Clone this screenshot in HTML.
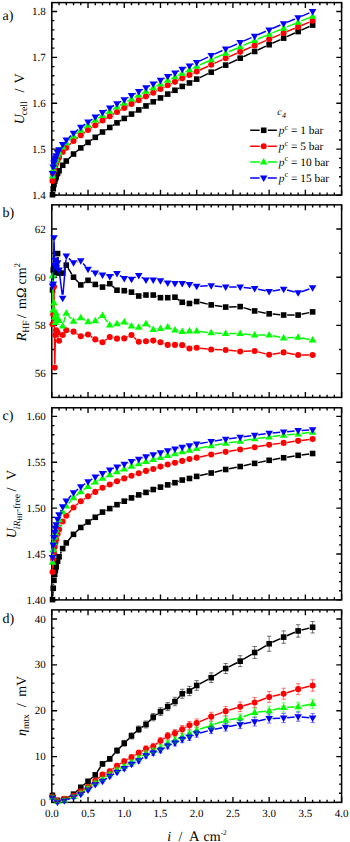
<!DOCTYPE html>
<html><head><meta charset="utf-8"><title>Figure</title>
<style>html,body{margin:0;padding:0;background:#fff;}body{width:350px;height:842px;position:relative;overflow:hidden;font-family:"Liberation Serif",serif;}</style></head>
<body>
<svg width="350" height="842" viewBox="0 0 350 842" style="position:absolute;left:0;top:0;font-family:'Liberation Serif',serif;text-rendering:geometricPrecision;">
<rect x="0" y="0" width="350" height="842" fill="#fff"/>
<rect x="51.8" y="2.60" width="289.80" height="192.50" fill="none" stroke="#000" stroke-width="1.5"/>
<path d="M51.80 195.10v-5.3M51.80 2.60v5.3M59.05 195.10v-2.6M59.05 2.60v2.6M66.29 195.10v-2.6M66.29 2.60v2.6M73.53 195.10v-2.6M73.53 2.60v2.6M80.78 195.10v-2.6M80.78 2.60v2.6M88.03 195.10v-5.3M88.03 2.60v5.3M95.27 195.10v-2.6M95.27 2.60v2.6M102.51 195.10v-2.6M102.51 2.60v2.6M109.76 195.10v-2.6M109.76 2.60v2.6M117.00 195.10v-2.6M117.00 2.60v2.6M124.25 195.10v-5.3M124.25 2.60v5.3M131.50 195.10v-2.6M131.50 2.60v2.6M138.74 195.10v-2.6M138.74 2.60v2.6M145.99 195.10v-2.6M145.99 2.60v2.6M153.23 195.10v-2.6M153.23 2.60v2.6M160.48 195.10v-5.3M160.48 2.60v5.3M167.72 195.10v-2.6M167.72 2.60v2.6M174.97 195.10v-2.6M174.97 2.60v2.6M182.21 195.10v-2.6M182.21 2.60v2.6M189.45 195.10v-2.6M189.45 2.60v2.6M196.70 195.10v-5.3M196.70 2.60v5.3M203.94 195.10v-2.6M203.94 2.60v2.6M211.19 195.10v-2.6M211.19 2.60v2.6M218.44 195.10v-2.6M218.44 2.60v2.6M225.68 195.10v-2.6M225.68 2.60v2.6M232.93 195.10v-5.3M232.93 2.60v5.3M240.17 195.10v-2.6M240.17 2.60v2.6M247.42 195.10v-2.6M247.42 2.60v2.6M254.66 195.10v-2.6M254.66 2.60v2.6M261.90 195.10v-2.6M261.90 2.60v2.6M269.15 195.10v-5.3M269.15 2.60v5.3M276.40 195.10v-2.6M276.40 2.60v2.6M283.64 195.10v-2.6M283.64 2.60v2.6M290.88 195.10v-2.6M290.88 2.60v2.6M298.13 195.10v-2.6M298.13 2.60v2.6M305.38 195.10v-5.3M305.38 2.60v5.3M312.62 195.10v-2.6M312.62 2.60v2.6M319.87 195.10v-2.6M319.87 2.60v2.6M327.11 195.10v-2.6M327.11 2.60v2.6M334.36 195.10v-2.6M334.36 2.60v2.6M341.60 195.10v-5.3M341.60 2.60v5.3M51.8 195.10h5.3M341.6 195.10h-5.3M51.8 185.92h2.6M341.6 185.92h-2.6M51.8 176.74h2.6M341.6 176.74h-2.6M51.8 167.55h2.6M341.6 167.55h-2.6M51.8 158.37h2.6M341.6 158.37h-2.6M51.8 149.19h5.3M341.6 149.19h-5.3M51.8 140.01h2.6M341.6 140.01h-2.6M51.8 130.83h2.6M341.6 130.83h-2.6M51.8 121.64h2.6M341.6 121.64h-2.6M51.8 112.46h2.6M341.6 112.46h-2.6M51.8 103.28h5.3M341.6 103.28h-5.3M51.8 94.10h2.6M341.6 94.10h-2.6M51.8 84.92h2.6M341.6 84.92h-2.6M51.8 75.73h2.6M341.6 75.73h-2.6M51.8 66.55h2.6M341.6 66.55h-2.6M51.8 57.37h5.3M341.6 57.37h-5.3M51.8 48.19h2.6M341.6 48.19h-2.6M51.8 39.01h2.6M341.6 39.01h-2.6M51.8 29.82h2.6M341.6 29.82h-2.6M51.8 20.64h2.6M341.6 20.64h-2.6M51.8 11.46h5.3M341.6 11.46h-5.3" stroke="#000" stroke-width="1.35" fill="none"/>
<path d="M68.81 158.59L71.02 156.46M76.21 151.77L78.11 150.16M83.57 145.78L85.24 144.51M90.89 140.38L92.41 139.31M98.10 135.24L99.69 134.08M105.48 130.16L106.80 129.32M112.72 125.58L114.05 124.74M119.99 121.04L121.27 120.25M127.25 116.61L128.49 115.87M134.53 112.33L135.70 111.67M141.81 108.25L142.92 107.63M149.02 104.20L150.20 103.53M156.32 100.14L157.39 99.57M163.57 96.29L164.63 95.73M170.82 92.46L171.87 91.91M178.05 88.63L179.12 88.05M185.37 84.90L186.30 84.46M192.55 81.32L193.60 80.76M199.85 77.62L208.04 73.68M214.34 70.63L222.53 66.64M228.84 63.60L237.01 59.70M243.34 56.72L251.49 52.93M257.83 49.97L265.98 46.18M272.34 43.25L280.45 39.57M286.83 36.68L294.94 33.00M301.32 30.13L309.43 26.50" stroke="#000" stroke-width="1.5" fill="none"/><rect x="49.72" y="191.89" width="5.60" height="5.60" fill="#000"/><rect x="50.45" y="185.91" width="5.60" height="5.60" fill="#000"/><rect x="51.17" y="181.67" width="5.60" height="5.60" fill="#000"/><rect x="51.90" y="178.41" width="5.60" height="5.60" fill="#000"/><rect x="52.62" y="176.05" width="5.60" height="5.60" fill="#000"/><rect x="53.35" y="174.08" width="5.60" height="5.60" fill="#000"/><rect x="54.80" y="170.71" width="5.60" height="5.60" fill="#000"/><rect x="56.25" y="167.96" width="5.60" height="5.60" fill="#000"/><rect x="59.87" y="162.48" width="5.60" height="5.60" fill="#000"/><rect x="63.49" y="158.23" width="5.60" height="5.60" fill="#000"/><rect x="70.73" y="151.23" width="5.60" height="5.60" fill="#000"/><rect x="77.98" y="145.10" width="5.60" height="5.60" fill="#000"/><rect x="85.23" y="139.59" width="5.60" height="5.60" fill="#000"/><rect x="92.47" y="134.50" width="5.60" height="5.60" fill="#000"/><rect x="99.71" y="129.22" width="5.60" height="5.60" fill="#000"/><rect x="106.96" y="124.66" width="5.60" height="5.60" fill="#000"/><rect x="114.20" y="120.07" width="5.60" height="5.60" fill="#000"/><rect x="121.45" y="115.61" width="5.60" height="5.60" fill="#000"/><rect x="128.69" y="111.27" width="5.60" height="5.60" fill="#000"/><rect x="135.94" y="107.13" width="5.60" height="5.60" fill="#000"/><rect x="143.19" y="103.14" width="5.60" height="5.60" fill="#000"/><rect x="150.43" y="98.98" width="5.60" height="5.60" fill="#000"/><rect x="157.68" y="95.13" width="5.60" height="5.60" fill="#000"/><rect x="164.92" y="91.29" width="5.60" height="5.60" fill="#000"/><rect x="172.16" y="87.47" width="5.60" height="5.60" fill="#000"/><rect x="179.41" y="83.61" width="5.60" height="5.60" fill="#000"/><rect x="186.65" y="80.15" width="5.60" height="5.60" fill="#000"/><rect x="193.90" y="76.33" width="5.60" height="5.60" fill="#000"/><rect x="208.39" y="69.37" width="5.60" height="5.60" fill="#000"/><rect x="222.88" y="62.31" width="5.60" height="5.60" fill="#000"/><rect x="237.37" y="55.39" width="5.60" height="5.60" fill="#000"/><rect x="251.86" y="48.65" width="5.60" height="5.60" fill="#000"/><rect x="266.35" y="41.90" width="5.60" height="5.60" fill="#000"/><rect x="280.84" y="35.32" width="5.60" height="5.60" fill="#000"/><rect x="295.33" y="28.76" width="5.60" height="5.60" fill="#000"/><rect x="309.82" y="22.27" width="5.60" height="5.60" fill="#000"/>
<path d="M68.84 145.32L70.99 143.29M76.28 138.71L78.04 137.32M83.64 133.13L85.16 132.07M90.94 128.12L92.35 127.18M98.21 123.34L99.58 122.45M105.53 118.77L106.75 118.04M112.77 114.48L113.99 113.76M120.06 110.27L121.20 109.63M127.31 106.21L128.43 105.59M134.60 102.28L135.63 101.75M141.84 98.52L142.89 97.96M149.12 94.78L150.09 94.30M156.33 91.12L157.38 90.57M163.60 87.37L164.59 86.87M170.88 83.79L171.81 83.34M178.11 80.29L179.07 79.82M185.38 76.79L186.29 76.37M192.63 73.41L193.52 72.99M199.88 70.05L208.01 66.28M214.38 63.36L222.49 59.67M228.89 56.82L236.96 53.28M243.37 50.46L251.46 46.90M257.88 44.11L265.93 40.66M272.36 37.88L280.43 34.38M286.87 31.63L294.90 28.26M301.35 25.54L309.40 22.15" stroke="#f00" stroke-width="1.5" fill="none"/><circle cx="52.52" cy="180.88" r="3.05" fill="#f00"/><circle cx="53.25" cy="174.35" r="3.05" fill="#f00"/><circle cx="53.97" cy="170.42" r="3.05" fill="#f00"/><circle cx="54.70" cy="167.59" r="3.05" fill="#f00"/><circle cx="55.42" cy="165.24" r="3.05" fill="#f00"/><circle cx="56.15" cy="163.30" r="3.05" fill="#f00"/><circle cx="57.60" cy="160.01" r="3.05" fill="#f00"/><circle cx="59.05" cy="157.30" r="3.05" fill="#f00"/><circle cx="62.67" cy="151.91" r="3.05" fill="#f00"/><circle cx="66.29" cy="147.72" r="3.05" fill="#f00"/><circle cx="73.53" cy="140.88" r="3.05" fill="#f00"/><circle cx="80.78" cy="135.14" r="3.05" fill="#f00"/><circle cx="88.03" cy="130.06" r="3.05" fill="#f00"/><circle cx="95.27" cy="125.24" r="3.05" fill="#f00"/><circle cx="102.51" cy="120.55" r="3.05" fill="#f00"/><circle cx="109.76" cy="116.26" r="3.05" fill="#f00"/><circle cx="117.00" cy="111.98" r="3.05" fill="#f00"/><circle cx="124.25" cy="107.91" r="3.05" fill="#f00"/><circle cx="131.50" cy="103.89" r="3.05" fill="#f00"/><circle cx="138.74" cy="100.14" r="3.05" fill="#f00"/><circle cx="145.99" cy="96.33" r="3.05" fill="#f00"/><circle cx="153.23" cy="92.75" r="3.05" fill="#f00"/><circle cx="160.48" cy="88.94" r="3.05" fill="#f00"/><circle cx="167.72" cy="85.30" r="3.05" fill="#f00"/><circle cx="174.97" cy="81.83" r="3.05" fill="#f00"/><circle cx="182.21" cy="78.28" r="3.05" fill="#f00"/><circle cx="189.45" cy="74.88" r="3.05" fill="#f00"/><circle cx="196.70" cy="71.52" r="3.05" fill="#f00"/><circle cx="211.19" cy="64.81" r="3.05" fill="#f00"/><circle cx="225.68" cy="58.23" r="3.05" fill="#f00"/><circle cx="240.17" cy="51.87" r="3.05" fill="#f00"/><circle cx="254.66" cy="45.49" r="3.05" fill="#f00"/><circle cx="269.15" cy="39.28" r="3.05" fill="#f00"/><circle cx="283.64" cy="32.99" r="3.05" fill="#f00"/><circle cx="298.13" cy="26.91" r="3.05" fill="#f00"/><circle cx="312.62" cy="20.79" r="3.05" fill="#f00"/>
<path d="M68.86 140.37L70.97 138.41M76.27 133.84L78.05 132.42M83.61 128.18L85.19 127.03M90.92 123.01L92.37 122.02M98.23 118.19L99.56 117.35M105.52 113.70L106.75 112.96M112.79 109.41L113.98 108.72M120.06 105.25L121.20 104.61M127.33 101.24L128.41 100.65M134.58 97.34L135.65 96.77M141.81 93.44L142.92 92.83M149.14 89.63L150.08 89.18M156.35 86.08L157.35 85.58M163.59 82.40L164.61 81.88M170.88 78.77L171.81 78.32M178.11 75.29L179.06 74.83M185.37 71.79L186.30 71.35M192.61 68.33L193.55 67.88M199.88 64.91L208.01 61.20M214.38 58.30L222.49 54.60M228.89 51.76L236.96 48.26M243.37 45.44L251.46 41.83M257.88 39.04L265.93 35.64M272.38 32.92L280.41 29.57M286.88 26.89L294.89 23.59M301.37 20.93L309.38 17.66" stroke="#0f0" stroke-width="1.5" fill="none"/><path d="M48.72 178.55L56.32 178.55L52.52 172.05Z" fill="#0f0"/><path d="M49.45 171.98L57.05 171.98L53.25 165.48Z" fill="#0f0"/><path d="M50.17 168.04L57.77 168.04L53.97 161.54Z" fill="#0f0"/><path d="M50.90 165.19L58.50 165.19L54.70 158.69Z" fill="#0f0"/><path d="M51.62 162.86L59.22 162.86L55.42 156.36Z" fill="#0f0"/><path d="M52.35 160.89L59.95 160.89L56.15 154.39Z" fill="#0f0"/><path d="M53.80 157.59L61.40 157.59L57.60 151.09Z" fill="#0f0"/><path d="M55.25 154.85L62.84 154.85L59.05 148.35Z" fill="#0f0"/><path d="M58.87 149.45L66.47 149.45L62.67 142.95Z" fill="#0f0"/><path d="M62.49 145.25L70.09 145.25L66.29 138.75Z" fill="#0f0"/><path d="M69.73 138.53L77.33 138.53L73.53 132.03Z" fill="#0f0"/><path d="M76.98 132.74L84.58 132.74L80.78 126.24Z" fill="#0f0"/><path d="M84.23 127.47L91.83 127.47L88.03 120.97Z" fill="#0f0"/><path d="M91.47 122.56L99.07 122.56L95.27 116.06Z" fill="#0f0"/><path d="M98.71 117.99L106.31 117.99L102.51 111.49Z" fill="#0f0"/><path d="M105.96 113.68L113.56 113.68L109.76 107.18Z" fill="#0f0"/><path d="M113.20 109.46L120.80 109.46L117.00 102.96Z" fill="#0f0"/><path d="M120.45 105.39L128.05 105.39L124.25 98.89Z" fill="#0f0"/><path d="M127.70 101.49L135.30 101.49L131.50 94.99Z" fill="#0f0"/><path d="M134.94 97.62L142.54 97.62L138.74 91.12Z" fill="#0f0"/><path d="M142.19 93.65L149.79 93.65L145.99 87.15Z" fill="#0f0"/><path d="M149.43 90.16L157.03 90.16L153.23 83.66Z" fill="#0f0"/><path d="M156.68 86.50L164.28 86.50L160.48 80.00Z" fill="#0f0"/><path d="M163.92 82.78L171.52 82.78L167.72 76.28Z" fill="#0f0"/><path d="M171.16 79.31L178.77 79.31L174.97 72.81Z" fill="#0f0"/><path d="M178.41 75.80L186.01 75.80L182.21 69.30Z" fill="#0f0"/><path d="M185.65 72.34L193.25 72.34L189.45 65.84Z" fill="#0f0"/><path d="M192.90 68.86L200.50 68.86L196.70 62.36Z" fill="#0f0"/><path d="M207.39 62.25L214.99 62.25L211.19 55.75Z" fill="#0f0"/><path d="M221.88 55.65L229.48 55.65L225.68 49.15Z" fill="#0f0"/><path d="M236.37 49.37L243.97 49.37L240.17 42.87Z" fill="#0f0"/><path d="M250.86 42.90L258.46 42.90L254.66 36.40Z" fill="#0f0"/><path d="M265.35 36.77L272.95 36.77L269.15 30.27Z" fill="#0f0"/><path d="M279.84 30.73L287.44 30.73L283.64 24.23Z" fill="#0f0"/><path d="M294.33 24.76L301.93 24.76L298.13 18.26Z" fill="#0f0"/><path d="M308.82 18.83L316.42 18.83L312.62 12.33Z" fill="#0f0"/>
<path d="M68.83 137.67L71.00 135.61M76.26 131.00L78.06 129.54M83.62 125.29L85.19 124.15M90.90 120.11L92.39 119.08M98.24 115.24L99.55 114.42M105.49 110.72L106.79 109.90M112.76 106.26L114.00 105.51M120.06 102.01L121.19 101.38M127.30 97.97L128.44 97.33M134.55 93.92L135.68 93.29M141.82 89.93L142.91 89.34M149.10 86.08L150.12 85.55M156.35 82.37L157.35 81.87M163.59 78.70L164.60 78.18M170.85 75.02L171.83 74.54M178.09 71.41L179.08 70.92M185.37 67.84L186.30 67.40M192.61 64.37L193.55 63.92M199.87 60.91L208.02 57.08M214.38 54.16L222.49 50.52M228.87 47.65L236.98 44.01M243.37 41.16L251.46 37.61M257.87 34.81L265.94 31.31M272.36 28.54L280.43 25.06M286.88 22.35L294.89 19.06M301.35 16.35L309.40 12.91" stroke="#00f" stroke-width="1.5" fill="none"/><path d="M48.72 171.07L56.32 171.07L52.52 177.57Z" fill="#00f"/><path d="M49.45 164.52L57.05 164.52L53.25 171.02Z" fill="#00f"/><path d="M50.17 160.55L57.77 160.55L53.97 167.05Z" fill="#00f"/><path d="M50.90 157.69L58.50 157.69L54.70 164.19Z" fill="#00f"/><path d="M51.62 155.38L59.22 155.38L55.42 161.88Z" fill="#00f"/><path d="M52.35 153.37L59.95 153.37L56.15 159.87Z" fill="#00f"/><path d="M53.80 150.03L61.40 150.03L57.60 156.53Z" fill="#00f"/><path d="M55.25 147.27L62.84 147.27L59.05 153.77Z" fill="#00f"/><path d="M58.87 141.93L66.47 141.93L62.67 148.43Z" fill="#00f"/><path d="M62.49 137.58L70.09 137.58L66.29 144.08Z" fill="#00f"/><path d="M69.73 130.70L77.33 130.70L73.53 137.20Z" fill="#00f"/><path d="M76.98 124.84L84.58 124.84L80.78 131.34Z" fill="#00f"/><path d="M84.23 119.60L91.83 119.60L88.03 126.10Z" fill="#00f"/><path d="M91.47 114.59L99.07 114.59L95.27 121.09Z" fill="#00f"/><path d="M98.71 110.07L106.31 110.07L102.51 116.57Z" fill="#00f"/><path d="M105.96 105.55L113.56 105.55L109.76 112.05Z" fill="#00f"/><path d="M113.20 101.22L120.80 101.22L117.00 107.72Z" fill="#00f"/><path d="M120.45 97.18L128.05 97.18L124.25 103.68Z" fill="#00f"/><path d="M127.70 93.12L135.30 93.12L131.50 99.62Z" fill="#00f"/><path d="M134.94 89.09L142.54 89.09L138.74 95.59Z" fill="#00f"/><path d="M142.19 85.18L149.79 85.18L145.99 91.68Z" fill="#00f"/><path d="M149.43 81.45L157.03 81.45L153.23 87.95Z" fill="#00f"/><path d="M156.68 77.79L164.28 77.79L160.48 84.29Z" fill="#00f"/><path d="M163.92 74.08L171.52 74.08L167.72 80.58Z" fill="#00f"/><path d="M171.16 70.48L178.77 70.48L174.97 76.98Z" fill="#00f"/><path d="M178.41 66.85L186.01 66.85L182.21 73.35Z" fill="#00f"/><path d="M185.65 63.40L193.25 63.40L189.45 69.90Z" fill="#00f"/><path d="M192.90 59.90L200.50 59.90L196.70 66.40Z" fill="#00f"/><path d="M207.39 53.10L214.99 53.10L211.19 59.60Z" fill="#00f"/><path d="M221.88 46.58L229.48 46.58L225.68 53.08Z" fill="#00f"/><path d="M236.37 40.07L243.97 40.07L240.17 46.57Z" fill="#00f"/><path d="M250.86 33.70L258.46 33.70L254.66 40.20Z" fill="#00f"/><path d="M265.35 27.42L272.95 27.42L269.15 33.92Z" fill="#00f"/><path d="M279.84 21.17L287.44 21.17L283.64 27.67Z" fill="#00f"/><path d="M294.33 15.23L301.93 15.23L298.13 21.73Z" fill="#00f"/><path d="M308.82 9.03L316.42 9.03L312.62 15.53Z" fill="#00f"/>
<text x="45.8" y="198.70" font-size="11" text-anchor="end">1.4</text>
<text x="45.8" y="152.79" font-size="11" text-anchor="end">1.5</text>
<text x="45.8" y="106.88" font-size="11" text-anchor="end">1.6</text>
<text x="45.8" y="60.97" font-size="11" text-anchor="end">1.7</text>
<text x="45.8" y="15.06" font-size="11" text-anchor="end">1.8</text>
<rect x="51.8" y="204.85" width="289.80" height="192.55" fill="none" stroke="#000" stroke-width="1.5"/>
<path d="M51.80 397.40v-5.3M51.80 204.85v5.3M59.05 397.40v-2.6M59.05 204.85v2.6M66.29 397.40v-2.6M66.29 204.85v2.6M73.53 397.40v-2.6M73.53 204.85v2.6M80.78 397.40v-2.6M80.78 204.85v2.6M88.03 397.40v-5.3M88.03 204.85v5.3M95.27 397.40v-2.6M95.27 204.85v2.6M102.51 397.40v-2.6M102.51 204.85v2.6M109.76 397.40v-2.6M109.76 204.85v2.6M117.00 397.40v-2.6M117.00 204.85v2.6M124.25 397.40v-5.3M124.25 204.85v5.3M131.50 397.40v-2.6M131.50 204.85v2.6M138.74 397.40v-2.6M138.74 204.85v2.6M145.99 397.40v-2.6M145.99 204.85v2.6M153.23 397.40v-2.6M153.23 204.85v2.6M160.48 397.40v-5.3M160.48 204.85v5.3M167.72 397.40v-2.6M167.72 204.85v2.6M174.97 397.40v-2.6M174.97 204.85v2.6M182.21 397.40v-2.6M182.21 204.85v2.6M189.45 397.40v-2.6M189.45 204.85v2.6M196.70 397.40v-5.3M196.70 204.85v5.3M203.94 397.40v-2.6M203.94 204.85v2.6M211.19 397.40v-2.6M211.19 204.85v2.6M218.44 397.40v-2.6M218.44 204.85v2.6M225.68 397.40v-2.6M225.68 204.85v2.6M232.93 397.40v-5.3M232.93 204.85v5.3M240.17 397.40v-2.6M240.17 204.85v2.6M247.42 397.40v-2.6M247.42 204.85v2.6M254.66 397.40v-2.6M254.66 204.85v2.6M261.90 397.40v-2.6M261.90 204.85v2.6M269.15 397.40v-5.3M269.15 204.85v5.3M276.40 397.40v-2.6M276.40 204.85v2.6M283.64 397.40v-2.6M283.64 204.85v2.6M290.88 397.40v-2.6M290.88 204.85v2.6M298.13 397.40v-2.6M298.13 204.85v2.6M305.38 397.40v-5.3M305.38 204.85v5.3M312.62 397.40v-2.6M312.62 204.85v2.6M319.87 397.40v-2.6M319.87 204.85v2.6M327.11 397.40v-2.6M327.11 204.85v2.6M334.36 397.40v-2.6M334.36 204.85v2.6M341.60 397.40v-5.3M341.60 204.85v5.3M51.8 373.60h5.3M341.6 373.60h-5.3M51.8 349.50h2.6M341.6 349.50h-2.6M51.8 325.40h5.3M341.6 325.40h-5.3M51.8 301.30h2.6M341.6 301.30h-2.6M51.8 277.20h5.3M341.6 277.20h-5.3M51.8 253.10h2.6M341.6 253.10h-2.6M51.8 229.00h5.3M341.6 229.00h-5.3" stroke="#000" stroke-width="1.35" fill="none"/>
<path d="M52.65 286.48L53.12 273.47M56.42 268.89L57.33 257.07M57.86 257.07L58.79 269.61M64.12 269.92L64.84 268.34M68.09 268.15L71.73 274.20M75.93 279.75L78.38 282.36M83.74 283.04L85.07 282.20M91.07 282.06L92.22 282.71M98.56 285.63L99.23 285.88M105.69 285.60L106.59 285.18M112.36 286.05L114.40 287.88M127.68 291.38L128.06 291.46M134.58 293.79L135.65 294.35M142.21 295.54L142.52 295.50M156.52 296.24L157.19 296.48M177.83 299.21L179.34 300.26M185.66 302.84L186.00 302.89M192.84 302.57L193.32 302.44M200.11 302.33L207.78 304.12M214.65 305.43L222.22 306.57M229.18 306.97L236.67 306.72M243.52 307.61L251.31 309.94M258.09 311.63L265.72 313.15M272.64 314.12L280.15 314.75M287.14 315.04L294.63 315.04M301.55 314.30L309.20 312.64" stroke="#000" stroke-width="1.5" fill="none"/><rect x="49.72" y="287.17" width="5.60" height="5.60" fill="#000"/><rect x="50.45" y="267.17" width="5.60" height="5.60" fill="#000"/><rect x="51.17" y="269.58" width="5.60" height="5.60" fill="#000"/><rect x="51.90" y="264.76" width="5.60" height="5.60" fill="#000"/><rect x="52.62" y="267.17" width="5.60" height="5.60" fill="#000"/><rect x="53.35" y="269.58" width="5.60" height="5.60" fill="#000"/><rect x="54.80" y="250.78" width="5.60" height="5.60" fill="#000"/><rect x="56.25" y="270.30" width="5.60" height="5.60" fill="#000"/><rect x="59.87" y="270.30" width="5.60" height="5.60" fill="#000"/><rect x="63.49" y="262.35" width="5.60" height="5.60" fill="#000"/><rect x="70.73" y="274.40" width="5.60" height="5.60" fill="#000"/><rect x="77.98" y="282.11" width="5.60" height="5.60" fill="#000"/><rect x="85.23" y="277.53" width="5.60" height="5.60" fill="#000"/><rect x="92.47" y="281.63" width="5.60" height="5.60" fill="#000"/><rect x="99.71" y="284.28" width="5.60" height="5.60" fill="#000"/><rect x="106.96" y="280.91" width="5.60" height="5.60" fill="#000"/><rect x="114.20" y="287.41" width="5.60" height="5.60" fill="#000"/><rect x="121.45" y="287.90" width="5.60" height="5.60" fill="#000"/><rect x="128.69" y="289.34" width="5.60" height="5.60" fill="#000"/><rect x="135.94" y="293.20" width="5.60" height="5.60" fill="#000"/><rect x="143.19" y="292.23" width="5.60" height="5.60" fill="#000"/><rect x="150.43" y="292.23" width="5.60" height="5.60" fill="#000"/><rect x="157.68" y="294.89" width="5.60" height="5.60" fill="#000"/><rect x="164.92" y="294.89" width="5.60" height="5.60" fill="#000"/><rect x="172.16" y="294.40" width="5.60" height="5.60" fill="#000"/><rect x="179.41" y="299.46" width="5.60" height="5.60" fill="#000"/><rect x="186.65" y="300.67" width="5.60" height="5.60" fill="#000"/><rect x="193.90" y="298.74" width="5.60" height="5.60" fill="#000"/><rect x="208.39" y="302.11" width="5.60" height="5.60" fill="#000"/><rect x="222.88" y="304.28" width="5.60" height="5.60" fill="#000"/><rect x="237.37" y="303.80" width="5.60" height="5.60" fill="#000"/><rect x="251.86" y="308.14" width="5.60" height="5.60" fill="#000"/><rect x="266.35" y="311.03" width="5.60" height="5.60" fill="#000"/><rect x="280.84" y="312.24" width="5.60" height="5.60" fill="#000"/><rect x="295.33" y="312.24" width="5.60" height="5.60" fill="#000"/><rect x="309.82" y="309.10" width="5.60" height="5.60" fill="#000"/>
<path d="M52.79 320.70L52.99 318.05M53.34 311.06L53.88 290.34M54.00 290.34L54.67 364.08M54.78 364.08L55.34 338.54M58.21 336.08L58.44 337.38M69.72 330.91L70.10 330.98M76.49 333.54L77.82 334.38M84.19 335.45L84.62 335.35M90.94 336.50L92.36 337.44M98.52 340.68L99.26 340.97M105.34 340.20L106.94 339.03M113.17 337.76L113.60 337.86M127.42 336.94L128.32 336.52M134.06 337.43L136.18 339.40M156.64 341.38L157.07 341.48M163.76 343.47L164.43 343.72M185.38 346.64L186.28 347.06M200.18 348.22L207.71 349.10M214.69 349.62L222.18 349.87M229.16 350.33L236.69 351.08M243.67 351.31L251.16 351.06M258.04 351.85L265.77 353.90M272.60 354.23L280.19 352.97M287.08 353.02L294.69 354.41M301.63 355.04L309.12 355.04" stroke="#f00" stroke-width="1.5" fill="none"/><circle cx="52.52" cy="324.20" r="3.05" fill="#f00"/><circle cx="53.25" cy="314.55" r="3.05" fill="#f00"/><circle cx="53.97" cy="286.84" r="3.05" fill="#f00"/><circle cx="54.70" cy="367.58" r="3.05" fill="#f00"/><circle cx="55.42" cy="335.04" r="3.05" fill="#f00"/><circle cx="56.15" cy="330.22" r="3.05" fill="#f00"/><circle cx="57.60" cy="332.63" r="3.05" fill="#f00"/><circle cx="59.05" cy="340.82" r="3.05" fill="#f00"/><circle cx="62.67" cy="335.04" r="3.05" fill="#f00"/><circle cx="66.29" cy="330.22" r="3.05" fill="#f00"/><circle cx="73.53" cy="331.67" r="3.05" fill="#f00"/><circle cx="80.78" cy="336.25" r="3.05" fill="#f00"/><circle cx="88.03" cy="334.56" r="3.05" fill="#f00"/><circle cx="95.27" cy="339.38" r="3.05" fill="#f00"/><circle cx="102.51" cy="342.27" r="3.05" fill="#f00"/><circle cx="109.76" cy="336.97" r="3.05" fill="#f00"/><circle cx="117.00" cy="338.65" r="3.05" fill="#f00"/><circle cx="124.25" cy="338.41" r="3.05" fill="#f00"/><circle cx="131.50" cy="335.04" r="3.05" fill="#f00"/><circle cx="138.74" cy="341.79" r="3.05" fill="#f00"/><circle cx="145.99" cy="341.31" r="3.05" fill="#f00"/><circle cx="153.23" cy="340.58" r="3.05" fill="#f00"/><circle cx="160.48" cy="342.27" r="3.05" fill="#f00"/><circle cx="167.72" cy="344.92" r="3.05" fill="#f00"/><circle cx="174.97" cy="344.92" r="3.05" fill="#f00"/><circle cx="182.21" cy="345.16" r="3.05" fill="#f00"/><circle cx="189.45" cy="348.54" r="3.05" fill="#f00"/><circle cx="196.70" cy="347.81" r="3.05" fill="#f00"/><circle cx="211.19" cy="349.50" r="3.05" fill="#f00"/><circle cx="225.68" cy="349.98" r="3.05" fill="#f00"/><circle cx="240.17" cy="351.43" r="3.05" fill="#f00"/><circle cx="254.66" cy="350.95" r="3.05" fill="#f00"/><circle cx="269.15" cy="354.80" r="3.05" fill="#f00"/><circle cx="283.64" cy="352.39" r="3.05" fill="#f00"/><circle cx="298.13" cy="355.04" r="3.05" fill="#f00"/><circle cx="312.62" cy="355.04" r="3.05" fill="#f00"/>
<path d="M52.60 279.49L53.17 306.48M54.15 306.48L54.52 313.71M55.70 319.02L55.87 316.84M63.64 322.52L65.32 316.71M68.65 315.94L71.18 318.72M76.67 319.74L77.65 319.25M83.83 319.41L84.98 320.06M91.49 321.32L91.80 321.28M98.09 318.75L99.69 317.59M104.65 318.29L107.62 322.15M113.21 324.34L113.55 324.29M120.41 322.92L120.84 322.82M127.30 323.75L128.45 324.40M134.95 326.70L135.29 326.75M141.87 325.77L142.85 325.28M148.72 325.90L150.49 327.31M156.70 329.04L157.01 328.99M163.91 327.85L164.29 327.77M170.97 328.38L171.71 328.68M178.40 330.66L178.78 330.74M200.17 331.40L207.72 332.41M214.69 333.05L222.18 333.42M229.18 333.59L236.67 333.59M243.65 333.94L251.18 334.69M258.16 335.04L265.65 335.04M272.58 335.73L280.21 337.25M287.14 337.76L294.63 337.38M301.56 337.89L309.19 339.42" stroke="#0f0" stroke-width="1.5" fill="none"/><path d="M48.72 278.50L56.32 278.50L52.52 272.00Z" fill="#0f0"/><path d="M49.45 312.48L57.05 312.48L53.25 305.98Z" fill="#0f0"/><path d="M50.17 305.49L57.77 305.49L53.97 298.99Z" fill="#0f0"/><path d="M50.90 319.71L58.50 319.71L54.70 313.21Z" fill="#0f0"/><path d="M51.62 325.01L59.22 325.01L55.42 318.51Z" fill="#0f0"/><path d="M52.35 315.85L59.95 315.85L56.15 309.35Z" fill="#0f0"/><path d="M53.80 320.67L61.40 320.67L57.60 314.17Z" fill="#0f0"/><path d="M55.25 323.08L62.84 323.08L59.05 316.58Z" fill="#0f0"/><path d="M58.87 328.38L66.47 328.38L62.67 321.88Z" fill="#0f0"/><path d="M62.49 315.85L70.09 315.85L66.29 309.35Z" fill="#0f0"/><path d="M69.73 323.80L77.33 323.80L73.53 317.30Z" fill="#0f0"/><path d="M76.98 320.19L84.58 320.19L80.78 313.69Z" fill="#0f0"/><path d="M84.23 324.29L91.83 324.29L88.03 317.79Z" fill="#0f0"/><path d="M91.47 323.32L99.07 323.32L95.27 316.82Z" fill="#0f0"/><path d="M98.71 318.02L106.31 318.02L102.51 311.52Z" fill="#0f0"/><path d="M105.96 327.42L113.56 327.42L109.76 320.92Z" fill="#0f0"/><path d="M113.20 326.21L120.80 326.21L117.00 319.71Z" fill="#0f0"/><path d="M120.45 324.53L128.05 324.53L124.25 318.03Z" fill="#0f0"/><path d="M127.70 328.62L135.30 328.62L131.50 322.12Z" fill="#0f0"/><path d="M134.94 329.83L142.54 329.83L138.74 323.33Z" fill="#0f0"/><path d="M142.19 326.21L149.79 326.21L145.99 319.71Z" fill="#0f0"/><path d="M149.43 332.00L157.03 332.00L153.23 325.50Z" fill="#0f0"/><path d="M156.68 331.03L164.28 331.03L160.48 324.53Z" fill="#0f0"/><path d="M163.92 329.59L171.52 329.59L167.72 323.09Z" fill="#0f0"/><path d="M171.16 332.48L178.77 332.48L174.97 325.98Z" fill="#0f0"/><path d="M178.41 333.93L186.01 333.93L182.21 327.43Z" fill="#0f0"/><path d="M185.65 333.44L193.25 333.44L189.45 326.94Z" fill="#0f0"/><path d="M192.90 333.44L200.50 333.44L196.70 326.94Z" fill="#0f0"/><path d="M207.39 335.37L214.99 335.37L211.19 328.87Z" fill="#0f0"/><path d="M221.88 336.09L229.48 336.09L225.68 329.59Z" fill="#0f0"/><path d="M236.37 336.09L243.97 336.09L240.17 329.59Z" fill="#0f0"/><path d="M250.86 337.54L258.46 337.54L254.66 331.04Z" fill="#0f0"/><path d="M265.35 337.54L272.95 337.54L269.15 331.04Z" fill="#0f0"/><path d="M279.84 340.43L287.44 340.43L283.64 333.93Z" fill="#0f0"/><path d="M294.33 339.71L301.93 339.71L298.13 333.21Z" fill="#0f0"/><path d="M308.82 342.60L316.42 342.60L312.62 336.10Z" fill="#0f0"/>
<path d="M53.30 280.45L53.92 241.18M54.07 241.17L54.61 261.65M58.28 266.17L58.36 266.54M59.49 273.44L62.22 294.70M62.97 294.68L65.99 259.48M68.85 258.38L70.97 260.35M76.92 261.84L77.40 261.71M83.06 263.47L85.74 266.59M91.11 270.89L92.18 271.46M98.65 274.00L99.13 274.13M105.95 275.72L106.33 275.79M113.01 275.18L113.75 274.88M119.92 275.52L121.34 276.47M134.63 277.57L135.61 277.08M141.70 277.38L143.03 278.22M163.83 281.82L164.37 281.98M185.68 283.93L185.99 283.97M192.84 285.33L193.32 285.46M200.20 286.18L207.69 285.81M214.67 285.98L222.20 286.73M229.18 287.08L236.67 287.08M243.65 287.43L251.18 288.18M258.09 289.21L265.72 290.73M272.61 290.90L280.18 289.77M287.04 290.10L294.73 292.02M301.43 291.71L309.32 288.96" stroke="#00f" stroke-width="1.5" fill="none"/><path d="M48.72 283.38L56.32 283.38L52.52 289.88Z" fill="#00f"/><path d="M49.45 281.45L57.05 281.45L53.25 287.95Z" fill="#00f"/><path d="M50.17 235.18L57.77 235.18L53.97 241.68Z" fill="#00f"/><path d="M50.90 262.65L58.50 262.65L54.70 269.15Z" fill="#00f"/><path d="M51.62 257.83L59.22 257.83L55.42 264.33Z" fill="#00f"/><path d="M52.35 265.06L59.95 265.06L56.15 271.56Z" fill="#00f"/><path d="M53.80 260.24L61.40 260.24L57.60 266.74Z" fill="#00f"/><path d="M55.25 267.47L62.84 267.47L59.05 273.97Z" fill="#00f"/><path d="M58.87 295.67L66.47 295.67L62.67 302.17Z" fill="#00f"/><path d="M62.49 253.49L70.09 253.49L66.29 259.99Z" fill="#00f"/><path d="M69.73 260.24L77.33 260.24L73.53 266.74Z" fill="#00f"/><path d="M76.98 258.31L84.58 258.31L80.78 264.81Z" fill="#00f"/><path d="M84.23 266.75L91.83 266.75L88.03 273.25Z" fill="#00f"/><path d="M91.47 270.60L99.07 270.60L95.27 277.10Z" fill="#00f"/><path d="M98.71 272.53L106.31 272.53L102.51 279.03Z" fill="#00f"/><path d="M105.96 273.98L113.56 273.98L109.76 280.48Z" fill="#00f"/><path d="M113.20 271.09L120.80 271.09L117.00 277.59Z" fill="#00f"/><path d="M120.45 275.90L128.05 275.90L124.25 282.40Z" fill="#00f"/><path d="M127.70 276.63L135.30 276.63L131.50 283.13Z" fill="#00f"/><path d="M134.94 273.01L142.54 273.01L138.74 279.51Z" fill="#00f"/><path d="M142.19 277.59L149.79 277.59L145.99 284.09Z" fill="#00f"/><path d="M149.43 277.59L157.03 277.59L153.23 284.09Z" fill="#00f"/><path d="M156.68 278.31L164.28 278.31L160.48 284.81Z" fill="#00f"/><path d="M163.92 280.48L171.52 280.48L167.72 286.98Z" fill="#00f"/><path d="M171.16 280.97L178.77 280.97L174.97 287.47Z" fill="#00f"/><path d="M178.41 280.97L186.01 280.97L182.21 287.47Z" fill="#00f"/><path d="M185.65 281.93L193.25 281.93L189.45 288.43Z" fill="#00f"/><path d="M192.90 283.86L200.50 283.86L196.70 290.36Z" fill="#00f"/><path d="M207.39 283.14L214.99 283.14L211.19 289.64Z" fill="#00f"/><path d="M221.88 284.58L229.48 284.58L225.68 291.08Z" fill="#00f"/><path d="M236.37 284.58L243.97 284.58L240.17 291.08Z" fill="#00f"/><path d="M250.86 286.03L258.46 286.03L254.66 292.53Z" fill="#00f"/><path d="M265.35 288.92L272.95 288.92L269.15 295.42Z" fill="#00f"/><path d="M279.84 286.75L287.44 286.75L283.64 293.25Z" fill="#00f"/><path d="M294.33 290.37L301.93 290.37L298.13 296.87Z" fill="#00f"/><path d="M308.82 285.30L316.42 285.30L312.62 291.80Z" fill="#00f"/>
<text x="45.8" y="377.20" font-size="11" text-anchor="end">56</text>
<text x="45.8" y="329.00" font-size="11" text-anchor="end">58</text>
<text x="45.8" y="280.80" font-size="11" text-anchor="end">60</text>
<text x="45.8" y="232.60" font-size="11" text-anchor="end">62</text>
<rect x="51.8" y="407.80" width="289.80" height="192.10" fill="none" stroke="#000" stroke-width="1.5"/>
<path d="M51.80 599.90v-5.3M51.80 407.80v5.3M59.05 599.90v-2.6M59.05 407.80v2.6M66.29 599.90v-2.6M66.29 407.80v2.6M73.53 599.90v-2.6M73.53 407.80v2.6M80.78 599.90v-2.6M80.78 407.80v2.6M88.03 599.90v-5.3M88.03 407.80v5.3M95.27 599.90v-2.6M95.27 407.80v2.6M102.51 599.90v-2.6M102.51 407.80v2.6M109.76 599.90v-2.6M109.76 407.80v2.6M117.00 599.90v-2.6M117.00 407.80v2.6M124.25 599.90v-5.3M124.25 407.80v5.3M131.50 599.90v-2.6M131.50 407.80v2.6M138.74 599.90v-2.6M138.74 407.80v2.6M145.99 599.90v-2.6M145.99 407.80v2.6M153.23 599.90v-2.6M153.23 407.80v2.6M160.48 599.90v-5.3M160.48 407.80v5.3M167.72 599.90v-2.6M167.72 407.80v2.6M174.97 599.90v-2.6M174.97 407.80v2.6M182.21 599.90v-2.6M182.21 407.80v2.6M189.45 599.90v-2.6M189.45 407.80v2.6M196.70 599.90v-5.3M196.70 407.80v5.3M203.94 599.90v-2.6M203.94 407.80v2.6M211.19 599.90v-2.6M211.19 407.80v2.6M218.44 599.90v-2.6M218.44 407.80v2.6M225.68 599.90v-2.6M225.68 407.80v2.6M232.93 599.90v-5.3M232.93 407.80v5.3M240.17 599.90v-2.6M240.17 407.80v2.6M247.42 599.90v-2.6M247.42 407.80v2.6M254.66 599.90v-2.6M254.66 407.80v2.6M261.90 599.90v-2.6M261.90 407.80v2.6M269.15 599.90v-5.3M269.15 407.80v5.3M276.40 599.90v-2.6M276.40 407.80v2.6M283.64 599.90v-2.6M283.64 407.80v2.6M290.88 599.90v-2.6M290.88 407.80v2.6M298.13 599.90v-2.6M298.13 407.80v2.6M305.38 599.90v-5.3M305.38 407.80v5.3M312.62 599.90v-2.6M312.62 407.80v2.6M319.87 599.90v-2.6M319.87 407.80v2.6M327.11 599.90v-2.6M327.11 407.80v2.6M334.36 599.90v-2.6M334.36 407.80v2.6M341.60 599.90v-5.3M341.60 407.80v5.3M51.8 599.90h5.3M341.6 599.90h-5.3M51.8 590.73h2.6M341.6 590.73h-2.6M51.8 581.55h2.6M341.6 581.55h-2.6M51.8 572.38h2.6M341.6 572.38h-2.6M51.8 563.20h2.6M341.6 563.20h-2.6M51.8 554.02h5.3M341.6 554.02h-5.3M51.8 544.85h2.6M341.6 544.85h-2.6M51.8 535.67h2.6M341.6 535.67h-2.6M51.8 526.50h2.6M341.6 526.50h-2.6M51.8 517.32h2.6M341.6 517.32h-2.6M51.8 508.15h5.3M341.6 508.15h-5.3M51.8 498.97h2.6M341.6 498.97h-2.6M51.8 489.80h2.6M341.6 489.80h-2.6M51.8 480.63h2.6M341.6 480.63h-2.6M51.8 471.45h2.6M341.6 471.45h-2.6M51.8 462.28h5.3M341.6 462.28h-5.3M51.8 453.10h2.6M341.6 453.10h-2.6M51.8 443.93h2.6M341.6 443.93h-2.6M51.8 434.75h2.6M341.6 434.75h-2.6M51.8 425.58h2.6M341.6 425.58h-2.6M51.8 416.40h5.3M341.6 416.40h-5.3" stroke="#000" stroke-width="1.35" fill="none"/>
<path d="M52.75 596.13L53.03 591.72M53.57 584.74L53.65 583.79M60.46 553.58L61.25 551.78M68.55 540.23L71.27 537.01M76.08 531.93L78.24 529.88M83.58 525.37L85.23 524.13M90.95 520.10L92.35 519.18M98.12 515.23L99.66 514.14M105.66 510.57L106.62 510.10M112.84 506.90L113.92 506.31M120.16 503.14L121.09 502.69M127.44 499.73L128.31 499.34M134.73 496.55L135.50 496.23M142.05 493.76L142.68 493.55M149.24 491.11L149.98 490.82M156.55 488.42L157.15 488.22M163.82 486.07L164.38 485.90M171.07 483.86L171.61 483.70M178.25 481.50L178.92 481.25M185.63 479.30L186.04 479.21M192.82 477.50L193.34 477.35M200.11 475.59L207.78 473.80M214.59 472.19L222.28 470.33M229.11 468.80L236.74 467.23M243.59 465.77L251.24 464.10M258.08 462.64L265.73 461.02M272.60 459.69L280.19 458.35M287.09 457.17L294.68 455.91M301.60 454.90L309.15 453.95" stroke="#000" stroke-width="1.5" fill="none"/><rect x="49.72" y="596.82" width="5.60" height="5.60" fill="#000"/><rect x="50.45" y="585.43" width="5.60" height="5.60" fill="#000"/><rect x="51.17" y="577.51" width="5.60" height="5.60" fill="#000"/><rect x="51.90" y="571.56" width="5.60" height="5.60" fill="#000"/><rect x="52.62" y="567.39" width="5.60" height="5.60" fill="#000"/><rect x="53.35" y="564.00" width="5.60" height="5.60" fill="#000"/><rect x="54.80" y="558.42" width="5.60" height="5.60" fill="#000"/><rect x="56.25" y="553.98" width="5.60" height="5.60" fill="#000"/><rect x="59.87" y="545.78" width="5.60" height="5.60" fill="#000"/><rect x="63.49" y="540.11" width="5.60" height="5.60" fill="#000"/><rect x="70.73" y="531.54" width="5.60" height="5.60" fill="#000"/><rect x="77.98" y="524.67" width="5.60" height="5.60" fill="#000"/><rect x="85.23" y="519.22" width="5.60" height="5.60" fill="#000"/><rect x="92.47" y="514.46" width="5.60" height="5.60" fill="#000"/><rect x="99.71" y="509.31" width="5.60" height="5.60" fill="#000"/><rect x="106.96" y="505.76" width="5.60" height="5.60" fill="#000"/><rect x="114.20" y="501.86" width="5.60" height="5.60" fill="#000"/><rect x="121.45" y="498.38" width="5.60" height="5.60" fill="#000"/><rect x="128.69" y="495.09" width="5.60" height="5.60" fill="#000"/><rect x="135.94" y="492.10" width="5.60" height="5.60" fill="#000"/><rect x="143.19" y="489.61" width="5.60" height="5.60" fill="#000"/><rect x="150.43" y="486.73" width="5.60" height="5.60" fill="#000"/><rect x="157.68" y="484.31" width="5.60" height="5.60" fill="#000"/><rect x="164.92" y="482.07" width="5.60" height="5.60" fill="#000"/><rect x="172.16" y="479.90" width="5.60" height="5.60" fill="#000"/><rect x="179.41" y="477.25" width="5.60" height="5.60" fill="#000"/><rect x="186.65" y="475.67" width="5.60" height="5.60" fill="#000"/><rect x="193.90" y="473.59" width="5.60" height="5.60" fill="#000"/><rect x="208.39" y="470.21" width="5.60" height="5.60" fill="#000"/><rect x="222.88" y="466.71" width="5.60" height="5.60" fill="#000"/><rect x="237.37" y="463.72" width="5.60" height="5.60" fill="#000"/><rect x="251.86" y="460.56" width="5.60" height="5.60" fill="#000"/><rect x="266.35" y="457.50" width="5.60" height="5.60" fill="#000"/><rect x="280.84" y="454.94" width="5.60" height="5.60" fill="#000"/><rect x="295.33" y="452.54" width="5.60" height="5.60" fill="#000"/><rect x="309.82" y="450.72" width="5.60" height="5.60" fill="#000"/>
<path d="M52.73 568.51L53.05 562.99M53.60 556.01L53.63 555.70M60.47 526.42L61.24 524.71M68.58 513.17L71.25 510.09M76.19 505.16L78.13 503.48M83.69 499.25L85.12 498.30M91.01 494.52L92.29 493.73M98.30 490.15L99.49 489.47M105.72 486.32L106.55 485.95M112.94 483.10L113.82 482.69M120.26 479.95L120.99 479.66M127.54 477.19L128.20 476.95M134.80 474.61L135.43 474.39M142.07 472.17L142.65 471.98M149.38 470.04L149.84 469.92M156.55 467.93L157.16 467.73M163.83 465.60L164.37 465.44M171.13 463.63L171.56 463.53M178.36 461.86L178.82 461.75M185.61 460.03L186.06 459.92M192.89 458.40L193.27 458.33M200.12 456.92L207.77 455.30M214.63 453.92L222.24 452.48M229.13 451.26L236.72 450.02M243.63 448.91L251.20 447.72M258.11 446.61L265.70 445.35M272.62 444.33L280.17 443.37M287.11 442.43L294.66 441.35M301.60 440.43L309.15 439.48" stroke="#f00" stroke-width="1.5" fill="none"/><circle cx="52.52" cy="572.01" r="3.05" fill="#f00"/><circle cx="53.25" cy="559.49" r="3.05" fill="#f00"/><circle cx="53.97" cy="552.22" r="3.05" fill="#f00"/><circle cx="54.70" cy="546.98" r="3.05" fill="#f00"/><circle cx="55.42" cy="542.87" r="3.05" fill="#f00"/><circle cx="56.15" cy="539.52" r="3.05" fill="#f00"/><circle cx="57.60" cy="534.01" r="3.05" fill="#f00"/><circle cx="59.05" cy="529.62" r="3.05" fill="#f00"/><circle cx="62.67" cy="521.52" r="3.05" fill="#f00"/><circle cx="66.29" cy="515.82" r="3.05" fill="#f00"/><circle cx="73.53" cy="507.45" r="3.05" fill="#f00"/><circle cx="80.78" cy="501.20" r="3.05" fill="#f00"/><circle cx="88.03" cy="496.35" r="3.05" fill="#f00"/><circle cx="95.27" cy="491.90" r="3.05" fill="#f00"/><circle cx="102.51" cy="487.71" r="3.05" fill="#f00"/><circle cx="109.76" cy="484.56" r="3.05" fill="#f00"/><circle cx="117.00" cy="481.23" r="3.05" fill="#f00"/><circle cx="124.25" cy="478.38" r="3.05" fill="#f00"/><circle cx="131.50" cy="475.76" r="3.05" fill="#f00"/><circle cx="138.74" cy="473.24" r="3.05" fill="#f00"/><circle cx="145.99" cy="470.91" r="3.05" fill="#f00"/><circle cx="153.23" cy="469.05" r="3.05" fill="#f00"/><circle cx="160.48" cy="466.61" r="3.05" fill="#f00"/><circle cx="167.72" cy="464.43" r="3.05" fill="#f00"/><circle cx="174.97" cy="462.73" r="3.05" fill="#f00"/><circle cx="182.21" cy="460.88" r="3.05" fill="#f00"/><circle cx="189.45" cy="459.08" r="3.05" fill="#f00"/><circle cx="196.70" cy="457.65" r="3.05" fill="#f00"/><circle cx="211.19" cy="454.57" r="3.05" fill="#f00"/><circle cx="225.68" cy="451.83" r="3.05" fill="#f00"/><circle cx="240.17" cy="449.45" r="3.05" fill="#f00"/><circle cx="254.66" cy="447.18" r="3.05" fill="#f00"/><circle cx="269.15" cy="444.78" r="3.05" fill="#f00"/><circle cx="283.64" cy="442.92" r="3.05" fill="#f00"/><circle cx="298.13" cy="440.86" r="3.05" fill="#f00"/><circle cx="312.62" cy="439.05" r="3.05" fill="#f00"/>
<path d="M52.73 558.88L53.05 553.27M53.59 546.29L53.63 545.94M60.47 516.60L61.25 514.85M68.62 503.40L71.21 500.48M76.20 495.59L78.12 493.95M83.62 489.62L85.19 488.48M91.00 484.59L92.29 483.80M98.39 480.39L99.39 479.88M105.66 476.77L106.62 476.30M112.98 473.40L113.78 473.07M120.28 470.47L120.98 470.21M127.54 467.78L128.21 467.53M134.81 465.21L135.43 465.00M142.06 462.75L142.67 462.54M149.36 460.52L149.85 460.38M156.61 458.56L157.10 458.43M163.84 456.57L164.35 456.42M171.12 454.63L171.57 454.52M178.36 452.83L178.82 452.71M185.63 451.12L186.03 451.03M192.87 449.50L193.29 449.41M200.14 447.97L207.75 446.51M214.63 445.22L222.24 443.82M229.15 442.72L236.70 441.69M243.62 440.62L251.21 439.31M258.14 438.31L265.67 437.44M272.62 436.59L280.17 435.61M287.13 434.86L294.64 434.19M301.61 433.48L309.14 432.60" stroke="#0f0" stroke-width="1.5" fill="none"/><path d="M48.72 564.87L56.32 564.87L52.52 558.37Z" fill="#0f0"/><path d="M49.45 552.28L57.05 552.28L53.25 545.78Z" fill="#0f0"/><path d="M50.17 544.95L57.77 544.95L53.97 538.45Z" fill="#0f0"/><path d="M50.90 539.77L58.50 539.77L54.70 533.27Z" fill="#0f0"/><path d="M51.62 535.63L59.22 535.63L55.42 529.13Z" fill="#0f0"/><path d="M52.35 532.27L59.95 532.27L56.15 525.77Z" fill="#0f0"/><path d="M53.80 526.72L61.40 526.72L57.60 520.22Z" fill="#0f0"/><path d="M55.25 522.30L62.84 522.30L59.05 515.80Z" fill="#0f0"/><path d="M58.87 514.15L66.47 514.15L62.67 507.65Z" fill="#0f0"/><path d="M62.49 508.51L70.09 508.51L66.29 502.01Z" fill="#0f0"/><path d="M69.73 500.36L77.33 500.36L73.53 493.86Z" fill="#0f0"/><path d="M76.98 494.17L84.58 494.17L80.78 487.67Z" fill="#0f0"/><path d="M84.23 488.93L91.83 488.93L88.03 482.43Z" fill="#0f0"/><path d="M91.47 484.46L99.07 484.46L95.27 477.96Z" fill="#0f0"/><path d="M98.71 480.81L106.31 480.81L102.51 474.31Z" fill="#0f0"/><path d="M105.96 477.26L113.56 477.26L109.76 470.76Z" fill="#0f0"/><path d="M113.20 474.21L120.80 474.21L117.00 467.71Z" fill="#0f0"/><path d="M120.45 471.47L128.05 471.47L124.25 464.97Z" fill="#0f0"/><path d="M127.70 468.84L135.30 468.84L131.50 462.34Z" fill="#0f0"/><path d="M134.94 466.36L142.54 466.36L138.74 459.86Z" fill="#0f0"/><path d="M142.19 463.93L149.79 463.93L145.99 457.43Z" fill="#0f0"/><path d="M149.43 461.97L157.03 461.97L153.23 455.47Z" fill="#0f0"/><path d="M156.68 460.02L164.28 460.02L160.48 453.52Z" fill="#0f0"/><path d="M163.92 457.97L171.52 457.97L167.72 451.47Z" fill="#0f0"/><path d="M171.16 456.18L178.77 456.18L174.97 449.68Z" fill="#0f0"/><path d="M178.41 454.36L186.01 454.36L182.21 447.86Z" fill="#0f0"/><path d="M185.65 452.78L193.25 452.78L189.45 446.28Z" fill="#0f0"/><path d="M192.90 451.12L200.50 451.12L196.70 444.62Z" fill="#0f0"/><path d="M207.39 448.35L214.99 448.35L211.19 441.85Z" fill="#0f0"/><path d="M221.88 445.69L229.48 445.69L225.68 439.19Z" fill="#0f0"/><path d="M236.37 443.72L243.97 443.72L240.17 437.22Z" fill="#0f0"/><path d="M250.86 441.21L258.46 441.21L254.66 434.71Z" fill="#0f0"/><path d="M265.35 439.53L272.95 439.53L269.15 433.03Z" fill="#0f0"/><path d="M279.84 437.67L287.44 437.67L283.64 431.17Z" fill="#0f0"/><path d="M294.33 436.38L301.93 436.38L298.13 429.88Z" fill="#0f0"/><path d="M308.82 434.70L316.42 434.70L312.62 428.20Z" fill="#0f0"/>
<path d="M52.73 553.93L53.05 548.38M53.59 541.40L53.63 541.03M60.48 511.65L61.23 509.97M68.60 498.49L71.23 495.50M76.21 490.61L78.10 489.01M83.65 484.75L85.16 483.69M90.99 479.82L92.31 478.99M98.41 475.57L99.38 475.10M105.66 472.01L106.62 471.54M112.98 468.64L113.78 468.30M120.28 465.70L120.98 465.44M127.54 463.00L128.21 462.76M134.82 460.47L135.42 460.27M142.04 458.02L142.68 457.80M149.36 455.73L149.85 455.60M156.62 453.82L157.09 453.70M163.84 451.87L164.35 451.73M171.12 449.95L171.56 449.85M178.36 448.19L178.81 448.08M185.64 446.55L186.03 446.47M192.87 444.98L193.29 444.88M200.15 443.48L207.74 442.12M214.65 440.98L222.22 439.83M229.14 438.81L236.71 437.73M243.64 436.76L251.19 435.74M258.13 434.81L265.68 433.79M272.64 433.00L280.15 432.32M287.12 431.66L294.65 430.92M301.62 430.38L309.13 429.96" stroke="#00f" stroke-width="1.5" fill="none"/><path d="M48.72 554.92L56.32 554.92L52.52 561.42Z" fill="#00f"/><path d="M49.45 542.39L57.05 542.39L53.25 548.89Z" fill="#00f"/><path d="M50.17 535.05L57.77 535.05L53.97 541.55Z" fill="#00f"/><path d="M50.90 529.86L58.50 529.86L54.70 536.36Z" fill="#00f"/><path d="M51.62 525.80L59.22 525.80L55.42 532.30Z" fill="#00f"/><path d="M52.35 522.33L59.95 522.33L56.15 528.83Z" fill="#00f"/><path d="M53.80 516.77L61.40 516.77L57.60 523.27Z" fill="#00f"/><path d="M55.25 512.35L62.84 512.35L59.05 518.85Z" fill="#00f"/><path d="M58.87 504.27L66.47 504.27L62.67 510.77Z" fill="#00f"/><path d="M62.49 498.62L70.09 498.62L66.29 505.12Z" fill="#00f"/><path d="M69.73 490.37L77.33 490.37L73.53 496.87Z" fill="#00f"/><path d="M76.98 484.26L84.58 484.26L80.78 490.76Z" fill="#00f"/><path d="M84.23 479.19L91.83 479.19L88.03 485.69Z" fill="#00f"/><path d="M91.47 474.62L99.07 474.62L95.27 481.12Z" fill="#00f"/><path d="M98.71 471.05L106.31 471.05L102.51 477.55Z" fill="#00f"/><path d="M105.96 467.50L113.56 467.50L109.76 474.00Z" fill="#00f"/><path d="M113.20 464.44L120.80 464.44L117.00 470.94Z" fill="#00f"/><path d="M120.45 461.70L128.05 461.70L124.25 468.20Z" fill="#00f"/><path d="M127.70 459.06L135.30 459.06L131.50 465.56Z" fill="#00f"/><path d="M134.94 456.68L142.54 456.68L138.74 463.18Z" fill="#00f"/><path d="M142.19 454.15L149.79 454.15L145.99 460.65Z" fill="#00f"/><path d="M149.43 452.19L157.03 452.19L153.23 458.69Z" fill="#00f"/><path d="M156.68 450.33L164.28 450.33L160.48 456.83Z" fill="#00f"/><path d="M163.92 448.27L171.52 448.27L167.72 454.77Z" fill="#00f"/><path d="M171.16 446.52L178.77 446.52L174.97 453.02Z" fill="#00f"/><path d="M178.41 444.75L186.01 444.75L182.21 451.25Z" fill="#00f"/><path d="M185.65 443.26L193.25 443.26L189.45 449.76Z" fill="#00f"/><path d="M192.90 441.60L200.50 441.60L196.70 448.10Z" fill="#00f"/><path d="M207.39 439.01L214.99 439.01L211.19 445.51Z" fill="#00f"/><path d="M221.88 436.80L229.48 436.80L225.68 443.30Z" fill="#00f"/><path d="M236.37 434.73L243.97 434.73L240.17 441.23Z" fill="#00f"/><path d="M250.86 432.77L258.46 432.77L254.66 439.27Z" fill="#00f"/><path d="M265.35 430.82L272.95 430.82L269.15 437.32Z" fill="#00f"/><path d="M279.84 429.50L287.44 429.50L283.64 436.00Z" fill="#00f"/><path d="M294.33 428.07L301.93 428.07L298.13 434.57Z" fill="#00f"/><path d="M308.82 427.26L316.42 427.26L312.62 433.76Z" fill="#00f"/>
<text x="45.8" y="603.50" font-size="11" text-anchor="end">1.40</text>
<text x="45.8" y="557.62" font-size="11" text-anchor="end">1.45</text>
<text x="45.8" y="511.75" font-size="11" text-anchor="end">1.50</text>
<text x="45.8" y="465.87" font-size="11" text-anchor="end">1.55</text>
<text x="45.8" y="420.00" font-size="11" text-anchor="end">1.60</text>
<rect x="51.8" y="609.90" width="289.80" height="192.50" fill="none" stroke="#000" stroke-width="1.5"/>
<path d="M51.80 802.40v-5.3M51.80 609.90v5.3M59.05 802.40v-2.6M59.05 609.90v2.6M66.29 802.40v-2.6M66.29 609.90v2.6M73.53 802.40v-2.6M73.53 609.90v2.6M80.78 802.40v-2.6M80.78 609.90v2.6M88.03 802.40v-5.3M88.03 609.90v5.3M95.27 802.40v-2.6M95.27 609.90v2.6M102.51 802.40v-2.6M102.51 609.90v2.6M109.76 802.40v-2.6M109.76 609.90v2.6M117.00 802.40v-2.6M117.00 609.90v2.6M124.25 802.40v-5.3M124.25 609.90v5.3M131.50 802.40v-2.6M131.50 609.90v2.6M138.74 802.40v-2.6M138.74 609.90v2.6M145.99 802.40v-2.6M145.99 609.90v2.6M153.23 802.40v-2.6M153.23 609.90v2.6M160.48 802.40v-5.3M160.48 609.90v5.3M167.72 802.40v-2.6M167.72 609.90v2.6M174.97 802.40v-2.6M174.97 609.90v2.6M182.21 802.40v-2.6M182.21 609.90v2.6M189.45 802.40v-2.6M189.45 609.90v2.6M196.70 802.40v-5.3M196.70 609.90v5.3M203.94 802.40v-2.6M203.94 609.90v2.6M211.19 802.40v-2.6M211.19 609.90v2.6M218.44 802.40v-2.6M218.44 609.90v2.6M225.68 802.40v-2.6M225.68 609.90v2.6M232.93 802.40v-5.3M232.93 609.90v5.3M240.17 802.40v-2.6M240.17 609.90v2.6M247.42 802.40v-2.6M247.42 609.90v2.6M254.66 802.40v-2.6M254.66 609.90v2.6M261.90 802.40v-2.6M261.90 609.90v2.6M269.15 802.40v-5.3M269.15 609.90v5.3M276.40 802.40v-2.6M276.40 609.90v2.6M283.64 802.40v-2.6M283.64 609.90v2.6M290.88 802.40v-2.6M290.88 609.90v2.6M298.13 802.40v-2.6M298.13 609.90v2.6M305.38 802.40v-5.3M305.38 609.90v5.3M312.62 802.40v-2.6M312.62 609.90v2.6M319.87 802.40v-2.6M319.87 609.90v2.6M327.11 802.40v-2.6M327.11 609.90v2.6M334.36 802.40v-2.6M334.36 609.90v2.6M341.60 802.40v-5.3M341.60 609.90v5.3M51.8 802.40h5.3M341.6 802.40h-5.3M51.8 793.23h2.6M341.6 793.23h-2.6M51.8 784.06h2.6M341.6 784.06h-2.6M51.8 774.89h2.6M341.6 774.89h-2.6M51.8 765.72h2.6M341.6 765.72h-2.6M51.8 756.55h5.3M341.6 756.55h-5.3M51.8 747.38h2.6M341.6 747.38h-2.6M51.8 738.21h2.6M341.6 738.21h-2.6M51.8 729.04h2.6M341.6 729.04h-2.6M51.8 719.87h2.6M341.6 719.87h-2.6M51.8 710.70h5.3M341.6 710.70h-5.3M51.8 701.53h2.6M341.6 701.53h-2.6M51.8 692.36h2.6M341.6 692.36h-2.6M51.8 683.19h2.6M341.6 683.19h-2.6M51.8 674.02h2.6M341.6 674.02h-2.6M51.8 664.85h5.3M341.6 664.85h-5.3M51.8 655.68h2.6M341.6 655.68h-2.6M51.8 646.51h2.6M341.6 646.51h-2.6M51.8 637.34h2.6M341.6 637.34h-2.6M51.8 628.17h2.6M341.6 628.17h-2.6M51.8 619.00h5.3M341.6 619.00h-5.3" stroke="#000" stroke-width="1.35" fill="none"/>
<path d="M67.34 797.52L70.46 795.82M76.07 791.74L78.24 789.68M83.48 785.05L85.32 783.53M90.64 778.99L92.65 777.21M97.19 771.97L100.59 766.81M105.39 761.89L106.89 760.84M112.07 756.21L114.70 753.22M119.46 748.10L121.79 745.74M126.71 740.76L129.04 738.41M134.07 733.55L136.16 731.64M141.66 727.33L143.07 726.39M148.44 721.96L150.77 719.61M156.02 715.00L157.69 713.73M163.35 709.62L164.85 708.57M170.59 704.57L172.09 703.53M177.35 698.97L179.83 696.30M185.48 692.49L186.18 692.23M192.24 688.87L193.91 687.60M199.78 683.82L208.11 679.35M214.15 675.82L222.72 670.39M228.80 666.94L237.05 662.76M243.17 659.38L251.66 654.27M257.66 650.67L266.15 645.56M272.33 642.30L280.46 638.57M286.86 635.74L294.91 632.30M301.52 630.06L309.23 628.11" stroke="#000" stroke-width="1.5" fill="none"/><rect x="49.72" y="792.72" width="5.60" height="5.60" fill="#000"/><rect x="54.65" y="797.54" width="5.60" height="5.60" fill="#000"/><rect x="61.46" y="796.39" width="5.60" height="5.60" fill="#000"/><rect x="70.73" y="791.35" width="5.60" height="5.60" fill="#000"/><rect x="77.98" y="784.47" width="5.60" height="5.60" fill="#000"/><rect x="85.23" y="778.51" width="5.60" height="5.60" fill="#000"/><rect x="92.47" y="772.09" width="5.60" height="5.60" fill="#000"/><rect x="99.71" y="761.09" width="5.60" height="5.60" fill="#000"/><rect x="106.96" y="756.04" width="5.60" height="5.60" fill="#000"/><rect x="114.20" y="747.79" width="5.60" height="5.60" fill="#000"/><rect x="121.45" y="740.45" width="5.60" height="5.60" fill="#000"/><rect x="128.69" y="733.12" width="5.60" height="5.60" fill="#000"/><rect x="135.94" y="726.47" width="5.60" height="5.60" fill="#000"/><rect x="143.19" y="721.65" width="5.60" height="5.60" fill="#000"/><rect x="150.43" y="714.32" width="5.60" height="5.60" fill="#000"/><rect x="157.68" y="708.82" width="5.60" height="5.60" fill="#000"/><rect x="164.92" y="703.77" width="5.60" height="5.60" fill="#000"/><rect x="172.16" y="698.73" width="5.60" height="5.60" fill="#000"/><rect x="179.41" y="690.94" width="5.60" height="5.60" fill="#000"/><rect x="186.65" y="688.18" width="5.60" height="5.60" fill="#000"/><rect x="193.90" y="682.68" width="5.60" height="5.60" fill="#000"/><rect x="208.39" y="674.89" width="5.60" height="5.60" fill="#000"/><rect x="222.88" y="665.72" width="5.60" height="5.60" fill="#000"/><rect x="237.37" y="658.38" width="5.60" height="5.60" fill="#000"/><rect x="251.86" y="649.67" width="5.60" height="5.60" fill="#000"/><rect x="266.35" y="640.96" width="5.60" height="5.60" fill="#000"/><rect x="280.84" y="634.31" width="5.60" height="5.60" fill="#000"/><rect x="295.33" y="628.12" width="5.60" height="5.60" fill="#000"/><rect x="309.82" y="624.45" width="5.60" height="5.60" fill="#000"/>
<path d="M67.57 797.59L70.23 796.67M76.49 793.65L77.82 792.81M83.82 789.21L84.98 788.54M90.73 784.59L92.57 783.07M97.89 778.53L99.90 776.75M105.72 773.01L106.56 772.64M112.55 769.11L114.22 767.84M120.00 763.92L121.25 763.17M127.29 759.63L128.45 758.97M134.49 755.43L135.74 754.69M141.78 751.15L142.94 750.49M149.32 747.70L149.89 747.52M155.97 744.29L157.73 742.90M163.39 738.79L164.80 737.85M170.99 734.68L171.69 734.41M178.05 731.51L179.13 730.93M185.29 727.61L186.37 727.03M192.79 724.32L193.36 724.14M199.90 721.66L207.99 718.08M214.46 715.42L222.41 712.40M229.03 710.15L236.82 707.81M243.52 705.80L251.31 703.45M257.93 701.20L265.88 698.19M272.57 696.19L280.22 694.49M286.98 692.68L294.79 690.21M301.52 688.29L309.23 686.34" stroke="#f00" stroke-width="1.5" fill="none"/><circle cx="52.52" cy="796.67" r="3.05" fill="#f00"/><circle cx="57.45" cy="800.57" r="3.05" fill="#f00"/><circle cx="64.26" cy="798.73" r="3.05" fill="#f00"/><circle cx="73.53" cy="795.52" r="3.05" fill="#f00"/><circle cx="80.78" cy="790.94" r="3.05" fill="#f00"/><circle cx="88.03" cy="786.81" r="3.05" fill="#f00"/><circle cx="95.27" cy="780.85" r="3.05" fill="#f00"/><circle cx="102.51" cy="774.43" r="3.05" fill="#f00"/><circle cx="109.76" cy="771.22" r="3.05" fill="#f00"/><circle cx="117.00" cy="765.72" r="3.05" fill="#f00"/><circle cx="124.25" cy="761.36" r="3.05" fill="#f00"/><circle cx="131.50" cy="757.24" r="3.05" fill="#f00"/><circle cx="138.74" cy="752.88" r="3.05" fill="#f00"/><circle cx="145.99" cy="748.76" r="3.05" fill="#f00"/><circle cx="153.23" cy="746.46" r="3.05" fill="#f00"/><circle cx="160.48" cy="740.73" r="3.05" fill="#f00"/><circle cx="167.72" cy="735.92" r="3.05" fill="#f00"/><circle cx="174.97" cy="733.17" r="3.05" fill="#f00"/><circle cx="182.21" cy="729.27" r="3.05" fill="#f00"/><circle cx="189.45" cy="725.37" r="3.05" fill="#f00"/><circle cx="196.70" cy="723.08" r="3.05" fill="#f00"/><circle cx="211.19" cy="716.66" r="3.05" fill="#f00"/><circle cx="225.68" cy="711.16" r="3.05" fill="#f00"/><circle cx="240.17" cy="706.80" r="3.05" fill="#f00"/><circle cx="254.66" cy="702.45" r="3.05" fill="#f00"/><circle cx="269.15" cy="696.94" r="3.05" fill="#f00"/><circle cx="283.64" cy="693.74" r="3.05" fill="#f00"/><circle cx="298.13" cy="689.15" r="3.05" fill="#f00"/><circle cx="312.62" cy="685.48" r="3.05" fill="#f00"/>
<path d="M67.54 798.66L70.25 797.66M76.66 794.86L77.66 794.35M83.65 790.77L85.15 789.73M90.90 785.73L92.40 784.68M98.39 781.10L99.39 780.60M105.39 777.02L106.89 775.97M112.80 772.24L113.96 771.58M120.13 768.27L121.13 767.76M127.29 764.45L128.45 763.78M134.54 760.32L135.70 759.66M141.70 756.05L143.03 755.21M149.26 752.10L149.96 751.83M156.43 749.17L157.27 748.80M163.52 745.65L164.68 744.99M170.92 741.84L171.76 741.46M178.09 738.46L179.09 737.96M185.48 735.13L186.18 734.87M192.62 732.12L193.54 731.69M200.02 729.08L207.87 726.48M214.50 724.22L222.37 721.48M229.14 719.78L236.71 718.58M243.44 716.79L251.39 713.78M258.13 712.09L265.68 711.14M272.57 709.94L280.22 708.25M287.14 707.32L294.63 706.97M301.56 706.10L309.19 704.53" stroke="#0f0" stroke-width="1.5" fill="none"/><path d="M48.72 799.63L56.32 799.63L52.52 793.13Z" fill="#0f0"/><path d="M53.65 803.75L61.25 803.75L57.45 797.25Z" fill="#0f0"/><path d="M60.46 802.38L68.06 802.38L64.26 795.88Z" fill="#0f0"/><path d="M69.73 798.94L77.33 798.94L73.53 792.44Z" fill="#0f0"/><path d="M76.98 795.27L84.58 795.27L80.78 788.77Z" fill="#0f0"/><path d="M84.23 790.23L91.83 790.23L88.03 783.73Z" fill="#0f0"/><path d="M91.47 785.18L99.07 785.18L95.27 778.68Z" fill="#0f0"/><path d="M98.71 781.52L106.31 781.52L102.51 775.02Z" fill="#0f0"/><path d="M105.96 776.47L113.56 776.47L109.76 769.97Z" fill="#0f0"/><path d="M113.20 772.35L120.80 772.35L117.00 765.85Z" fill="#0f0"/><path d="M120.45 768.68L128.05 768.68L124.25 762.18Z" fill="#0f0"/><path d="M127.70 764.55L135.30 764.55L131.50 758.05Z" fill="#0f0"/><path d="M134.94 760.43L142.54 760.43L138.74 753.93Z" fill="#0f0"/><path d="M142.19 755.84L149.79 755.84L145.99 749.34Z" fill="#0f0"/><path d="M149.43 753.09L157.03 753.09L153.23 746.59Z" fill="#0f0"/><path d="M156.68 749.88L164.28 749.88L160.48 743.38Z" fill="#0f0"/><path d="M163.92 745.75L171.52 745.75L167.72 739.25Z" fill="#0f0"/><path d="M171.16 742.54L178.77 742.54L174.97 736.04Z" fill="#0f0"/><path d="M178.41 738.88L186.01 738.88L182.21 732.38Z" fill="#0f0"/><path d="M185.65 736.12L193.25 736.12L189.45 729.62Z" fill="#0f0"/><path d="M192.90 732.69L200.50 732.69L196.70 726.19Z" fill="#0f0"/><path d="M207.39 727.87L214.99 727.87L211.19 721.37Z" fill="#0f0"/><path d="M221.88 722.83L229.48 722.83L225.68 716.33Z" fill="#0f0"/><path d="M236.37 720.54L243.97 720.54L240.17 714.04Z" fill="#0f0"/><path d="M250.86 715.03L258.46 715.03L254.66 708.53Z" fill="#0f0"/><path d="M265.35 713.20L272.95 713.20L269.15 706.70Z" fill="#0f0"/><path d="M279.84 709.99L287.44 709.99L283.64 703.49Z" fill="#0f0"/><path d="M294.33 709.30L301.93 709.30L298.13 702.80Z" fill="#0f0"/><path d="M308.82 706.32L316.42 706.32L312.62 699.82Z" fill="#0f0"/>
<path d="M67.54 799.58L70.25 798.57M76.74 795.94L77.58 795.56M83.82 792.41L84.98 791.75M90.81 787.90L92.48 786.64M98.47 783.10L99.31 782.73M105.39 779.31L106.89 778.27M112.80 774.53L113.96 773.87M120.13 770.56L121.13 770.05M127.29 766.74L128.45 766.08M134.62 762.76L135.62 762.26M141.61 758.68L143.11 757.63M149.26 754.39L149.96 754.12M156.50 751.64L157.20 751.37M163.52 748.40L164.68 747.74M170.96 744.67L171.73 744.36M178.13 741.52L179.05 741.09M185.55 738.53L186.12 738.35M192.62 735.79L193.54 735.36M200.08 732.95L207.81 730.87M214.63 729.30L222.24 727.86M229.12 726.55L236.73 725.11M243.61 723.80L251.22 722.36M258.08 720.95L265.73 719.25M272.65 718.38L280.14 718.15M287.12 717.71L294.65 716.99M301.61 716.99L309.14 717.71" stroke="#00f" stroke-width="1.5" fill="none"/><path d="M48.72 795.31L56.32 795.31L52.52 801.81Z" fill="#00f"/><path d="M53.65 799.67L61.25 799.67L57.45 806.17Z" fill="#00f"/><path d="M60.46 798.30L68.06 798.30L64.26 804.80Z" fill="#00f"/><path d="M69.73 794.86L77.33 794.86L73.53 801.36Z" fill="#00f"/><path d="M76.98 791.65L84.58 791.65L80.78 798.15Z" fill="#00f"/><path d="M84.23 787.52L91.83 787.52L88.03 794.02Z" fill="#00f"/><path d="M91.47 782.02L99.07 782.02L95.27 788.52Z" fill="#00f"/><path d="M98.71 778.81L106.31 778.81L102.51 785.31Z" fill="#00f"/><path d="M105.96 773.77L113.56 773.77L109.76 780.27Z" fill="#00f"/><path d="M113.20 769.64L120.80 769.64L117.00 776.14Z" fill="#00f"/><path d="M120.45 765.97L128.05 765.97L124.25 772.47Z" fill="#00f"/><path d="M127.70 761.84L135.30 761.84L131.50 768.34Z" fill="#00f"/><path d="M134.94 758.18L142.54 758.18L138.74 764.68Z" fill="#00f"/><path d="M142.19 753.13L149.79 753.13L145.99 759.63Z" fill="#00f"/><path d="M149.43 750.38L157.03 750.38L153.23 756.88Z" fill="#00f"/><path d="M156.68 747.63L164.28 747.63L160.48 754.13Z" fill="#00f"/><path d="M163.92 743.50L171.52 743.50L167.72 750.00Z" fill="#00f"/><path d="M171.16 740.52L178.77 740.52L174.97 747.02Z" fill="#00f"/><path d="M178.41 737.09L186.01 737.09L182.21 743.59Z" fill="#00f"/><path d="M185.65 734.79L193.25 734.79L189.45 741.29Z" fill="#00f"/><path d="M192.90 731.35L200.50 731.35L196.70 737.85Z" fill="#00f"/><path d="M207.39 727.46L214.99 727.46L211.19 733.96Z" fill="#00f"/><path d="M221.88 724.71L229.48 724.71L225.68 731.21Z" fill="#00f"/><path d="M236.37 721.95L243.97 721.95L240.17 728.45Z" fill="#00f"/><path d="M250.86 719.20L258.46 719.20L254.66 725.70Z" fill="#00f"/><path d="M265.35 715.99L272.95 715.99L269.15 722.49Z" fill="#00f"/><path d="M279.84 715.54L287.44 715.54L283.64 722.04Z" fill="#00f"/><path d="M294.33 714.16L301.93 714.16L298.13 720.66Z" fill="#00f"/><path d="M308.82 715.54L316.42 715.54L312.62 722.04Z" fill="#00f"/>
<path d="M52.52 794.15V796.90M50.32 794.15h4.4M50.32 796.90h4.4M57.45 799.19V801.48M55.25 799.19h4.4M55.25 801.48h4.4M64.26 797.81V800.57M62.06 797.81h4.4M62.06 800.57h4.4M73.53 792.66V795.64M71.33 792.66h4.4M71.33 795.64h4.4M80.78 785.58V788.96M78.58 785.58h4.4M78.58 788.96h4.4M88.03 779.42V783.20M85.83 779.42h4.4M85.83 783.20h4.4M95.27 772.80V776.98M93.07 772.80h4.4M93.07 776.98h4.4M102.51 761.60V766.17M100.31 761.60h4.4M100.31 766.17h4.4M109.76 756.36V761.33M107.56 756.36h4.4M107.56 761.33h4.4M117.00 747.91V753.27M114.80 747.91h4.4M114.80 753.27h4.4M124.25 740.37V746.13M122.05 740.37h4.4M122.05 746.13h4.4M131.50 732.84V739.00M129.30 732.84h4.4M129.30 739.00h4.4M138.74 725.99V732.55M136.54 725.99h4.4M136.54 732.55h4.4M145.99 720.98V727.93M143.79 720.98h4.4M143.79 727.93h4.4M153.23 713.44V720.79M151.03 713.44h4.4M151.03 720.79h4.4M160.48 707.74V715.49M158.28 707.74h4.4M158.28 715.49h4.4M167.72 702.50V710.65M165.52 702.50h4.4M165.52 710.65h4.4M174.97 697.26V705.80M172.77 697.26h4.4M172.77 705.80h4.4M182.21 689.27V698.21M180.01 689.27h4.4M180.01 698.21h4.4M189.45 686.32V695.65M187.25 686.32h4.4M187.25 695.65h4.4M196.70 680.61V690.35M194.50 680.61h4.4M194.50 690.35h4.4M211.19 672.87V682.50M208.99 672.87h4.4M208.99 682.50h4.4M225.68 663.47V673.56M223.48 663.47h4.4M223.48 673.56h4.4M240.17 655.68V666.68M237.97 655.68h4.4M237.97 666.68h4.4M254.66 646.51V658.43M252.46 646.51h4.4M252.46 658.43h4.4M269.15 636.19V651.32M266.95 636.19h4.4M266.95 651.32h4.4M283.64 630.92V643.30M281.44 630.92h4.4M281.44 643.30h4.4M298.13 624.73V637.11M295.93 624.73h4.4M295.93 637.11h4.4M312.62 621.52V632.98M310.42 621.52h4.4M310.42 632.98h4.4" stroke="#000" stroke-width="0.6" fill="none" opacity="0.9"/>
<path d="M52.52 795.29V798.04M50.32 795.29h4.4M50.32 798.04h4.4M57.45 799.42V801.71M55.25 799.42h4.4M55.25 801.71h4.4M64.26 797.36V800.11M62.06 797.36h4.4M62.06 800.11h4.4M73.53 794.26V796.78M71.33 794.26h4.4M71.33 796.78h4.4M80.78 789.51V792.37M78.58 789.51h4.4M78.58 792.37h4.4M88.03 785.21V788.41M85.83 785.21h4.4M85.83 788.41h4.4M95.27 779.09V782.62M93.07 779.09h4.4M93.07 782.62h4.4M102.51 772.50V776.36M100.31 772.50h4.4M100.31 776.36h4.4M109.76 769.12V773.32M107.56 769.12h4.4M107.56 773.32h4.4M117.00 763.45V767.99M114.80 763.45h4.4M114.80 767.99h4.4M124.25 758.93V763.80M122.05 758.93h4.4M122.05 763.80h4.4M131.50 754.63V759.84M129.30 754.63h4.4M129.30 759.84h4.4M138.74 750.11V755.66M136.54 750.11h4.4M136.54 755.66h4.4M145.99 745.81V751.70M143.79 745.81h4.4M143.79 751.70h4.4M153.23 743.35V749.57M151.03 743.35h4.4M151.03 749.57h4.4M160.48 737.45V744.01M158.28 737.45h4.4M158.28 744.01h4.4M167.72 732.47V739.36M165.52 732.47h4.4M165.52 739.36h4.4M174.97 729.55V736.78M172.77 729.55h4.4M172.77 736.78h4.4M182.21 725.49V733.05M180.01 725.49h4.4M180.01 733.05h4.4M189.45 721.42V729.32M187.25 721.42h4.4M187.25 729.32h4.4M196.70 718.96V727.20M194.50 718.96h4.4M194.50 727.20h4.4M211.19 712.30V721.02M208.99 712.30h4.4M208.99 721.02h4.4M225.68 706.57V715.74M223.48 706.57h4.4M223.48 715.74h4.4M240.17 701.99V711.62M237.97 701.99h4.4M237.97 711.62h4.4M254.66 697.40V707.49M252.46 697.40h4.4M252.46 707.49h4.4M269.15 691.44V702.45M266.95 691.44h4.4M266.95 702.45h4.4M283.64 688.23V699.24M281.44 688.23h4.4M281.44 699.24h4.4M298.13 683.65V694.65M295.93 683.65h4.4M295.93 694.65h4.4M312.62 679.75V691.21M310.42 679.75h4.4M310.42 691.21h4.4" stroke="#f00" stroke-width="0.6" fill="none" opacity="0.9"/>
<path d="M52.52 795.75V798.50M50.32 795.75h4.4M50.32 798.50h4.4M57.45 800.11V802.40M55.25 800.11h4.4M55.25 802.40h4.4M64.26 798.50V801.25M62.06 798.50h4.4M62.06 801.25h4.4M73.53 795.41V797.47M71.33 795.41h4.4M71.33 797.47h4.4M80.78 791.60V793.94M78.58 791.60h4.4M78.58 793.94h4.4M88.03 786.42V789.03M85.83 786.42h4.4M85.83 789.03h4.4M95.27 781.24V784.13M93.07 781.24h4.4M93.07 784.13h4.4M102.51 777.43V780.60M100.31 777.43h4.4M100.31 780.60h4.4M109.76 772.25V775.69M107.56 772.25h4.4M107.56 775.69h4.4M117.00 767.99V771.70M114.80 767.99h4.4M114.80 771.70h4.4M124.25 764.18V768.17M122.05 764.18h4.4M122.05 768.17h4.4M131.50 759.92V764.18M129.30 759.92h4.4M129.30 764.18h4.4M138.74 755.66V760.20M136.54 755.66h4.4M136.54 760.20h4.4M145.99 750.93V755.75M143.79 750.93h4.4M143.79 755.75h4.4M153.23 748.04V753.13M151.03 748.04h4.4M151.03 753.13h4.4M160.48 744.70V750.06M158.28 744.70h4.4M158.28 750.06h4.4M167.72 740.43V746.07M165.52 740.43h4.4M165.52 746.07h4.4M174.97 737.09V743.00M172.77 737.09h4.4M172.77 743.00h4.4M182.21 733.28V739.47M180.01 733.28h4.4M180.01 739.47h4.4M189.45 730.39V736.86M187.25 730.39h4.4M187.25 736.86h4.4M196.70 726.82V733.56M194.50 726.82h4.4M194.50 733.56h4.4M211.19 721.70V729.04M208.99 721.70h4.4M208.99 729.04h4.4M225.68 716.43V724.23M223.48 716.43h4.4M223.48 724.23h4.4M240.17 713.91V722.16M237.97 713.91h4.4M237.97 722.16h4.4M254.66 708.18V716.89M252.46 708.18h4.4M252.46 716.89h4.4M269.15 706.11V715.28M266.95 706.11h4.4M266.95 715.28h4.4M283.64 702.91V712.08M281.44 702.91h4.4M281.44 712.08h4.4M298.13 702.22V711.39M295.93 702.22h4.4M295.93 711.39h4.4M312.62 699.24V708.41M310.42 699.24h4.4M310.42 708.41h4.4" stroke="#0f0" stroke-width="0.6" fill="none" opacity="0.9"/>
<path d="M52.52 796.44V799.19M50.32 796.44h4.4M50.32 799.19h4.4M57.45 801.02V803.32M55.25 801.02h4.4M55.25 803.32h4.4M64.26 799.42V802.17M62.06 799.42h4.4M62.06 802.17h4.4M73.53 796.32V798.39M71.33 796.32h4.4M71.33 798.39h4.4M80.78 792.98V795.32M78.58 792.98h4.4M78.58 795.32h4.4M88.03 788.71V791.33M85.83 788.71h4.4M85.83 791.33h4.4M95.27 783.07V785.96M93.07 783.07h4.4M93.07 785.96h4.4M102.51 779.73V782.89M100.31 779.73h4.4M100.31 782.89h4.4M109.76 774.55V777.98M107.56 774.55h4.4M107.56 777.98h4.4M117.00 770.28V774.00M114.80 770.28h4.4M114.80 774.00h4.4M124.25 766.48V770.47M122.05 766.48h4.4M122.05 770.47h4.4M131.50 762.21V766.48M129.30 762.21h4.4M129.30 766.48h4.4M138.74 758.41V762.95M136.54 758.41h4.4M136.54 762.95h4.4M145.99 753.23V758.04M143.79 753.23h4.4M143.79 758.04h4.4M153.23 750.34V755.43M151.03 750.34h4.4M151.03 755.43h4.4M160.48 747.45V752.81M158.28 747.45h4.4M158.28 752.81h4.4M167.72 743.18V748.82M165.52 743.18h4.4M165.52 748.82h4.4M174.97 740.07V745.98M172.77 740.07h4.4M172.77 745.98h4.4M182.21 736.49V742.68M180.01 736.49h4.4M180.01 742.68h4.4M189.45 734.06V740.53M187.25 734.06h4.4M187.25 740.53h4.4M196.70 730.48V737.22M194.50 730.48h4.4M194.50 737.22h4.4M211.19 726.29V733.62M208.99 726.29h4.4M208.99 733.62h4.4M225.68 723.31V731.10M223.48 723.31h4.4M223.48 731.10h4.4M240.17 720.33V728.58M237.97 720.33h4.4M237.97 728.58h4.4M254.66 717.35V726.06M252.46 717.35h4.4M252.46 726.06h4.4M269.15 713.91V723.08M266.95 713.91h4.4M266.95 723.08h4.4M283.64 713.45V722.62M281.44 713.45h4.4M281.44 722.62h4.4M298.13 712.08V721.25M295.93 712.08h4.4M295.93 721.25h4.4M312.62 713.45V722.62M310.42 713.45h4.4M310.42 722.62h4.4" stroke="#00f" stroke-width="0.6" fill="none" opacity="0.9"/>
<text x="45.8" y="806.00" font-size="11" text-anchor="end">0</text>
<text x="45.8" y="760.15" font-size="11" text-anchor="end">10</text>
<text x="45.8" y="714.30" font-size="11" text-anchor="end">20</text>
<text x="45.8" y="668.45" font-size="11" text-anchor="end">30</text>
<text x="45.8" y="622.60" font-size="11" text-anchor="end">40</text>
<text x="51.80" y="817.1" font-size="11" text-anchor="middle">0.0</text>
<text x="88.03" y="817.1" font-size="11" text-anchor="middle">0.5</text>
<text x="124.25" y="817.1" font-size="11" text-anchor="middle">1.0</text>
<text x="160.48" y="817.1" font-size="11" text-anchor="middle">1.5</text>
<text x="196.70" y="817.1" font-size="11" text-anchor="middle">2.0</text>
<text x="232.93" y="817.1" font-size="11" text-anchor="middle">2.5</text>
<text x="269.15" y="817.1" font-size="11" text-anchor="middle">3.0</text>
<text x="305.38" y="817.1" font-size="11" text-anchor="middle">3.5</text>
<text x="341.60" y="817.1" font-size="11" text-anchor="middle">4.0</text>
<text x="2.6" y="20.3" font-size="14">a)</text>
<text x="2.6" y="217.4" font-size="14">b)</text>
<text x="2.6" y="420.0" font-size="14">c)</text>
<text x="2.6" y="622.9" font-size="14">d)</text>
<text y="841.0" font-size="14"><tspan x="167.3" font-style="italic">i</tspan><tspan x="178.4">/</tspan><tspan x="188.9" font-size="14.6">A</tspan><tspan x="203.6">cm</tspan><tspan font-size="7.2" dy="-5.6">-2</tspan></text>
<g transform="translate(23.6,124.2) rotate(-90)"><text font-size="14" x="0" y="0"><tspan font-style="italic">U</tspan><tspan font-size="9.6" dy="3.2" dx="-1.2">cell</tspan><tspan dy="-3.2" x="31.6">/</tspan><tspan x="40.7">V</tspan></text></g>
<g transform="translate(25.6,341.2) rotate(-90)"><text font-size="14" x="0" y="0"><tspan font-style="italic">R</tspan><tspan font-size="9.6" dy="3.2" dx="0">HF</tspan><tspan dy="-3.2" x="22.9">/</tspan><tspan x="32.2">mΩ</tspan><tspan x="56.8">cm</tspan><tspan font-size="8.4" dy="-5.6">2</tspan></text></g>
<g transform="translate(16.4,538.2) rotate(-90)"><text font-size="14" x="0" y="0"><tspan font-style="italic">U</tspan><tspan font-size="9.6" dy="3.4" dx="-1.2" font-style="italic">iR</tspan><tspan font-size="6.8" dy="2.2">HF</tspan><tspan font-size="9.6" dy="-2.2">-free</tspan><tspan dy="-3.4" x="46.7">/</tspan><tspan x="58.3">V</tspan></text></g>
<g transform="translate(25.6,736.0) rotate(-90)"><text font-size="14" x="0" y="0"><tspan font-style="italic">η</tspan><tspan font-size="9.6" dy="3.2" dx="0">mtx</tspan><tspan dy="-3.2" x="28.8">/</tspan><tspan x="39.2">mV</tspan></text></g>
<text x="277.3" y="114.7" font-size="9.8" font-style="italic">c<tspan font-size="8" dy="3.7" dx="0.3">4</tspan></text>
<path d="M250.2 130.3H259.6M267.8 130.3H276.8" stroke="#000" stroke-width="1.5"/>
<rect x="260.90" y="127.50" width="5.60" height="5.60" fill="#000"/>
<text x="278.8" y="134.00" font-size="11.4"><tspan font-style="italic">p</tspan><tspan font-size="8.2" dy="-4.4">c</tspan><tspan dy="4.4"> = 1 bar</tspan></text>
<path d="M250.2 146.2H259.6M267.8 146.2H276.8" stroke="#f00" stroke-width="1.5"/>
<circle cx="263.70" cy="146.20" r="3.05" fill="#f00"/>
<text x="278.8" y="149.90" font-size="11.4"><tspan font-style="italic">p</tspan><tspan font-size="8.2" dy="-4.4">c</tspan><tspan dy="4.4"> = 5 bar</tspan></text>
<path d="M250.2 162.0H259.6M267.8 162.0H276.8" stroke="#0f0" stroke-width="1.5"/>
<path d="M259.90 164.50L267.50 164.50L263.70 158.00Z" fill="#0f0"/>
<text x="278.8" y="165.70" font-size="11.4"><tspan font-style="italic">p</tspan><tspan font-size="8.2" dy="-4.4">c</tspan><tspan dy="4.4"> = 10 bar</tspan></text>
<path d="M250.2 177.9H259.6M267.8 177.9H276.8" stroke="#00f" stroke-width="1.5"/>
<path d="M259.90 175.40L267.50 175.40L263.70 181.90Z" fill="#00f"/>
<text x="278.8" y="181.60" font-size="11.4"><tspan font-style="italic">p</tspan><tspan font-size="8.2" dy="-4.4">c</tspan><tspan dy="4.4"> = 15 bar</tspan></text>
</svg>
</body></html>
